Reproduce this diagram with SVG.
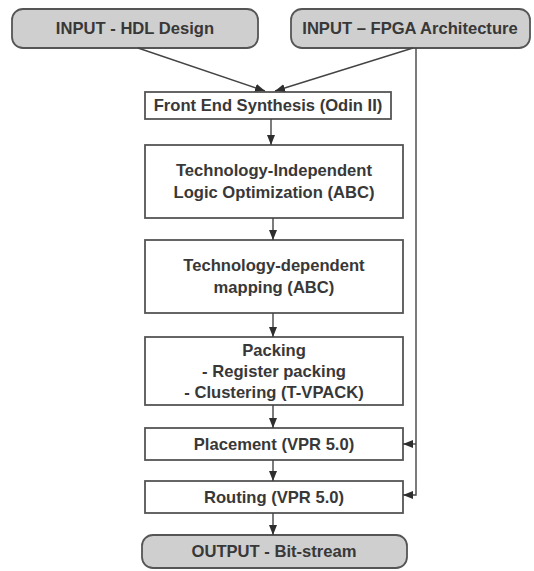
<svg xmlns="http://www.w3.org/2000/svg" width="534" height="571" viewBox="0 0 534 571">
  <defs>
    <marker id="arrow" markerWidth="10" markerHeight="8" refX="10" refY="4" orient="auto" markerUnits="userSpaceOnUse">
      <path d="M0,0 L10,4 L0,8 Z" fill="#2e2e2e"/>
    </marker>
    <style>
      .term { fill: #cfcfcf; stroke: #555; stroke-width: 1.8; }
      .step { fill: #fff; stroke: #555; stroke-width: 1.8; }
      .lbl { font-family: "Liberation Sans", Arial, sans-serif; font-weight: bold; font-size: 16.6px; fill: #383838; text-anchor: middle; }
      .wire { fill: none; stroke: #444; stroke-width: 1.4; }
    </style>
  </defs>
  <rect width="534" height="571" fill="#fff"/>

  <g id="input-hdl">
    <rect class="term" x="12" y="9" width="246" height="39" rx="11"/>
    <text class="lbl" x="135" y="34">INPUT - HDL Design</text>
  </g>
  <g id="input-fpga">
    <rect class="term" x="291" y="9" width="239" height="39" rx="11"/>
    <text class="lbl" x="410" y="34">INPUT – FPGA Architecture</text>
  </g>
  <g id="front-end">
    <rect class="step" x="145" y="92" width="246" height="27"/>
    <text class="lbl" x="268" y="111">Front End Synthesis (Odin II)</text>
  </g>
  <g id="logic-opt">
    <rect class="step" x="145" y="145" width="258" height="73"/>
    <text class="lbl" x="274" y="176">Technology-Independent</text>
    <text class="lbl" x="274" y="198">Logic Optimization (ABC)</text>
  </g>
  <g id="tech-map">
    <rect class="step" x="145" y="240" width="258" height="73"/>
    <text class="lbl" x="274" y="271">Technology-dependent</text>
    <text class="lbl" x="274" y="293">mapping (ABC)</text>
  </g>
  <g id="packing">
    <rect class="step" x="145" y="337" width="258" height="68"/>
    <text class="lbl" x="274" y="356">Packing</text>
    <text class="lbl" x="274" y="377">- Register packing</text>
    <text class="lbl" x="274" y="398">- Clustering (T-VPACK)</text>
  </g>
  <g id="placement">
    <rect class="step" x="145" y="428" width="258" height="32"/>
    <text class="lbl" x="274" y="450">Placement (VPR 5.0)</text>
  </g>
  <g id="routing">
    <rect class="step" x="145" y="481" width="258" height="32"/>
    <text class="lbl" x="274" y="503">Routing (VPR 5.0)</text>
  </g>
  <g id="output">
    <rect class="term" x="142" y="535" width="265" height="33" rx="11"/>
    <text class="lbl" x="274" y="557">OUTPUT - Bit-stream</text>
  </g>

  <g id="connectors">
    <line class="wire" x1="138" y1="48" x2="265" y2="91" marker-end="url(#arrow)"/>
    <line class="wire" x1="413" y1="48" x2="275" y2="91" marker-end="url(#arrow)"/>
    <line class="wire" x1="271" y1="119" x2="271" y2="145" marker-end="url(#arrow)"/>
    <line class="wire" x1="273" y1="218" x2="273" y2="240" marker-end="url(#arrow)"/>
    <line class="wire" x1="273" y1="313" x2="273" y2="337" marker-end="url(#arrow)"/>
    <line class="wire" x1="273" y1="405" x2="273" y2="428" marker-end="url(#arrow)"/>
    <line class="wire" x1="273" y1="460" x2="273" y2="481" marker-end="url(#arrow)"/>
    <line class="wire" x1="273" y1="513" x2="273" y2="535" marker-end="url(#arrow)"/>
    <polyline class="wire" points="416,48 416,495 403,495" marker-end="url(#arrow)"/>
    <line class="wire" x1="416" y1="444" x2="403" y2="444" marker-end="url(#arrow)"/>
  </g>
</svg>
